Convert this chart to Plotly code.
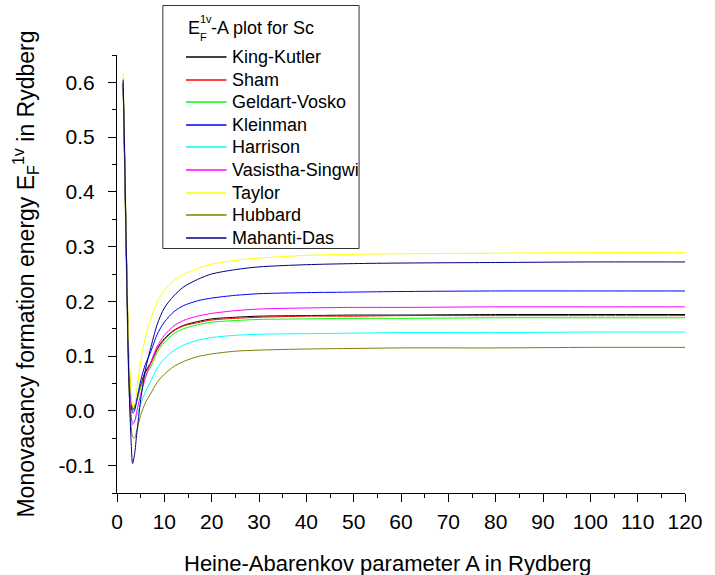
import plotly.graph_objects as go

A = [1.3, 1.6, 2.0, 2.5, 3.0, 3.3, 3.7, 4.2, 5.0, 6.0, 7.0, 8.5, 10, 12, 14, 17, 20, 25, 30, 40, 50, 60, 80, 100, 120]

king_kutler = [0.600, 0.468, 0.285, 0.095, 0.018, 0.003, 0.007, 0.022, 0.047, 0.072, 0.086, 0.114, 0.132, 0.147, 0.156, 0.163, 0.168, 0.171, 0.173, 0.174, 0.175, 0.175, 0.176, 0.176, 0.176]
sham = [0.598, 0.465, 0.280, 0.090, 0.015, 0.000, 0.005, 0.020, 0.045, 0.070, 0.084, 0.112, 0.130, 0.146, 0.155, 0.161, 0.166, 0.169, 0.171, 0.173, 0.173, 0.174, 0.174, 0.174, 0.174]
geldart_vosko = [0.596, 0.462, 0.275, 0.088, 0.016, 0.002, 0.006, 0.020, 0.043, 0.066, 0.078, 0.107, 0.125, 0.141, 0.150, 0.157, 0.162, 0.165, 0.167, 0.168, 0.169, 0.169, 0.170, 0.170, 0.170]
kleinman = [0.600, 0.470, 0.280, 0.090, 0.010, -0.004, 0.000, 0.020, 0.055, 0.085, 0.105, 0.140, 0.162, 0.181, 0.192, 0.201, 0.206, 0.211, 0.214, 0.216, 0.217, 0.218, 0.219, 0.219, 0.219]
harrison = [0.590, 0.455, 0.265, 0.070, -0.010, -0.020, -0.018, -0.008, 0.012, 0.035, 0.052, 0.078, 0.095, 0.110, 0.120, 0.129, 0.134, 0.138, 0.140, 0.141, 0.142, 0.143, 0.143, 0.144, 0.144]
vasistha_singwi = [0.595, 0.460, 0.270, 0.070, -0.010, -0.025, -0.020, 0.000, 0.030, 0.060, 0.085, 0.118, 0.138, 0.155, 0.165, 0.173, 0.178, 0.183, 0.186, 0.188, 0.189, 0.189, 0.190, 0.190, 0.190]
taylor = [0.617, 0.490, 0.300, 0.120, 0.030, 0.010, 0.012, 0.040, 0.090, 0.135, 0.165, 0.199, 0.220, 0.238, 0.249, 0.260, 0.268, 0.275, 0.279, 0.284, 0.286, 0.287, 0.288, 0.289, 0.289]
hubbard = [0.590, 0.450, 0.250, 0.050, -0.030, -0.047, -0.050, -0.035, -0.008, 0.015, 0.030, 0.052, 0.067, 0.081, 0.090, 0.099, 0.104, 0.109, 0.111, 0.113, 0.114, 0.115, 0.115, 0.116, 0.116]
mahanti_das = [0.605, 0.480, 0.280, 0.060, -0.060, -0.096, -0.080, -0.040, 0.020, 0.075, 0.111, 0.158, 0.188, 0.210, 0.226, 0.240, 0.250, 0.258, 0.263, 0.267, 0.269, 0.270, 0.271, 0.272, 0.272]

names = ["King-Kutler", "Sham", "Geldart-Vosko", "Kleinman", "Harrison",
         "Vasistha-Singwi", "Taylor", "Hubbard", "Mahanti-Das"]
series = [king_kutler, sham, geldart_vosko, kleinman, harrison,
          vasistha_singwi, taylor, hubbard, mahanti_das]
colors = ["#000000", "#FF0000", "#00FF00", "#0000FF", "#00FFFF",
          "#FF00FF", "#FFFF00", "#808000", "#000080"]

x_ticks = list(range(0, 121, 10))
y_ticks = [-0.1, 0.0, 0.1, 0.2, 0.3, 0.4, 0.5, 0.6]
y_tick_labels = ["-0.1", "0.0", "0.1", "0.2", "0.3", "0.4", "0.5", "0.6"]

W, H = 715, 575
ML, MR, MT, MB = 117, 22, 55, 82
PW, PH = W - ML - MR, H - MT - MB


def px(x):
    return (x - ML) / PW


def py(y):
    return (H - MB - y) / PH


fig = go.Figure()
for n, s, c in zip(names, series, colors):
    fig.add_trace(go.Scatter(x=A, y=s, name=n, mode="lines", showlegend=False,
                             line=dict(color=c, width=1, shape="spline", smoothing=0.8)))

font_family = "Liberation Sans, Arial, sans-serif"

# legend box (drawn manually to match the reference layout)
fig.add_shape(type="rect", xref="paper", yref="paper",
              x0=px(163.5), x1=px(362.5), y0=py(248.5), y1=py(5.5),
              line=dict(color="#333333", width=1), fillcolor="white", layer="above")
ann = []
ann.append(dict(text="E", x=px(187), y=py(28), font=dict(size=18)))
ann.append(dict(text="1v", x=px(199.5), y=py(19), font=dict(size=11)))
ann.append(dict(text="F", x=px(199.5), y=py(37), font=dict(size=11)))
ann.append(dict(text="-A plot for Sc", x=px(210), y=py(28), font=dict(size=18)))
row0, step = 57, 22.6
for i, (n, c) in enumerate(zip(names, colors)):
    yy = round(row0 + i * step)
    fig.add_shape(type="line", xref="paper", yref="paper",
                  x0=px(187), x1=px(228), y0=py(yy), y1=py(yy),
                  line=dict(color=c, width=1.5), layer="above")
    ann.append(dict(text=n, x=px(231.5), y=py(yy), font=dict(size=18)))
# x-axis title (placed as in the reference, slightly left of the plot centre)
ann.append(dict(text="Heine-Abarenkov parameter A in Rydberg", x=px(183), y=py(563),
                font=dict(size=22)))
for a in ann:
    fig.add_annotation(xref="paper", yref="paper", xanchor="left", yanchor="middle",
                       showarrow=False, **a)

fig.update_layout(
    width=W, height=H,
    margin=dict(l=ML, r=MR, t=MT, b=MB),
    paper_bgcolor="white", plot_bgcolor="white",
    font=dict(family=font_family, color="black", size=18),
    showlegend=False,
    xaxis=dict(
        range=[0, 120], tickvals=x_ticks, ticktext=[str(v) for v in x_ticks],
        showline=True, linecolor="black", linewidth=1, mirror=False,
        ticks="outside", ticklen=8, tickwidth=1, tickcolor="black",
        minor=dict(dtick=5, ticks="outside", ticklen=4, tickcolor="black", showgrid=False),
        showgrid=False, zeroline=False, ticklabelstandoff=2,
        tickfont=dict(size=21),
    ),
    yaxis=dict(
        range=[-0.15, 0.65], tickvals=y_ticks, ticktext=y_tick_labels,
        showline=True, linecolor="black", linewidth=1, mirror=False,
        ticks="outside", ticklen=8, tickwidth=1, tickcolor="black",
        minor=dict(tick0=-0.15, dtick=0.05, ticks="outside", ticklen=4, tickcolor="black", showgrid=False),
        showgrid=False, zeroline=False, ticklabelstandoff=9,
        tickfont=dict(size=21),
        title=dict(text="Monovacancy formation energy E<sub>F</sub><sup>1v</sup> in Rydberg",
                   font=dict(size=23), standoff=17),
    ),
)

fig.write_html("out.html")
